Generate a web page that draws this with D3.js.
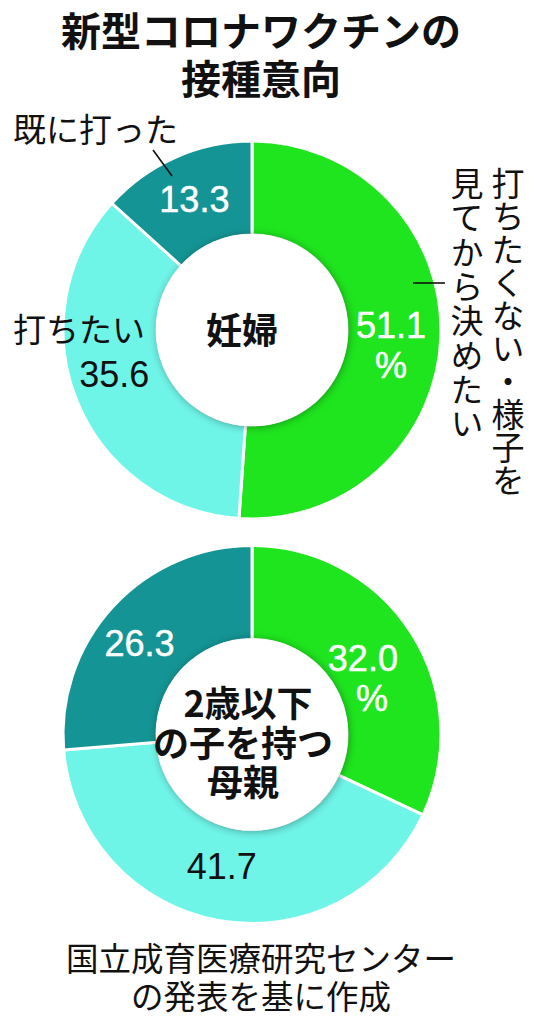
<!DOCTYPE html>
<html><head><meta charset="utf-8">
<script src="https://cdn.jsdelivr.net/npm/d3@7/dist/d3.min.js"></script>
<style>
html,body{margin:0;padding:0;background:#fff;}
svg{display:block;}
</style></head>
<body>
<script>
// ---- data ----
const title = ["新型コロナワクチンの", "接種意向"];
const categories = ["打ちたくない・様子を見てから決めたい", "打ちたい", "既に打った"];
const groups = ["妊婦", "2歳以下の子を持つ母親"];
const groupLines = [["妊婦"], ["2歳以下", "の子を持つ", "母親"]];
const pregnantValues = [51.1, 35.6, 13.3];
const motherValues = [32.0, 41.7, 26.3];
const colors = ["#1ee51e", "#6ff5e8", "#149494"];
const source = ["国立成育医療研究センター", "の発表を基に作成"];
const verticalLabel = ["打ちたくない・様子を", "見てから決めたい"];

// ---- layout ----
const W = 541, H = 1024;
const cx = 252, centersY = [330, 734.5];
const outerR = 189, innerR = 95;
const CJK = "'Noto Sans CJK JP','Noto Sans',sans-serif";
const NUM = "'Liberation Sans',Arial,sans-serif";
const nudges = [[[-3, 10], [-6, -9], [0, -1]], [[-9, 20], [-5, -8], [-8, 5]]];
const numColors = ["#fff", "#111", "#fff"];

const svg = d3.select("body").append("svg").attr("width", W).attr("height", H);
const defs = svg.append("defs");
const f = defs.append("filter").attr("id", "sh").attr("x", "-30%").attr("y", "-30%").attr("width", "160%").attr("height", "160%");
f.append("feDropShadow").attr("dx", 1).attr("dy", 1).attr("stdDeviation", 4)
  .attr("flood-color", "#000").attr("flood-opacity", 0.35);

function multiline(parent, lines, x, y0, lh, xs) {
  const t = parent.append("text").attr("text-anchor", "middle").attr("dominant-baseline", "central");
  t.selectAll("tspan").data(lines).join("tspan")
    .attr("x", (d, i) => x + (xs ? xs[i] : 0)).attr("y", (d, i) => y0 + i * lh)
    .attr("dominant-baseline", "central").text(d => d);
  return t;
}

// title
multiline(svg, title, 261, 29, 48)
  .style("font-family", CJK).style("font-weight", 700).style("font-size", "40px").attr("fill", "#111");

const pie = d3.pie().sort(null).value(d => d);
const arc = d3.arc().innerRadius(innerR).outerRadius(outerR);
const mid = d3.arc().innerRadius(innerR).outerRadius(outerR);

[pregnantValues, motherValues].forEach((vals, gi) => {
  const g = svg.append("g").attr("transform", `translate(${cx},${centersY[gi]})`);
  const arcs = pie(vals);
  g.selectAll("path").data(arcs).join("path")
    .attr("d", arc).attr("fill", (d, i) => colors[i])
    .attr("stroke", "#fff").attr("stroke-width", 3);
  g.append("circle").attr("r", innerR + 1).attr("fill", "#fff").attr("filter", "url(#sh)");

  // value labels
  arcs.forEach((a, i) => {
    const [x, y] = mid.centroid(a);
    const nx = x + nudges[gi][i][0], ny = y + nudges[gi][i][1];
    const t = g.append("text").attr("text-anchor", "middle")
      .style("font-family", NUM).style("font-size", "36px")
      .attr("fill", numColors[i]).attr("stroke", numColors[i]).attr("stroke-width", numColors[i] === "#fff" ? 0.5 : 0);
    const label = d3.format(".1f")(a.data);
    if (i === 0) {
      t.append("tspan").attr("x", nx).attr("y", ny - 7).text(label);
      t.append("tspan").attr("x", nx + (gi === 1 ? 9 : 0)).attr("y", ny + 33).text("%");
    } else {
      t.attr("x", nx).attr("y", ny + 13).text(label);
    }
  });

  // group label in the hole
  const lines = groupLines[gi];
  const lh = 39.5;
  const oy = gi === 0 ? -2 : 6;
  multiline(g, lines, gi === 0 ? -10 : -9, oy - (lines.length - 1) / 2 * lh, lh, gi === 0 ? null : [5, 0, 0])
    .style("font-family", CJK).style("font-weight", 700).style("font-size", "36px").attr("fill", "#111");
});

// category labels (top chart)
const lab = svg.append("g").style("font-family", CJK).style("font-size", "33px").attr("fill", "#111");
lab.append("text").attr("x", 13).attr("y", 128).attr("dominant-baseline", "central").text(categories[2]);
lab.append("text").attr("x", 13).attr("y", 328).attr("dominant-baseline", "central").text(categories[1]);
svg.append("line").attr("x1", 153).attr("y1", 150).attr("x2", 172).attr("y2", 176)
  .attr("stroke", "#111").attr("stroke-width", 1.6);
svg.append("line").attr("x1", 413).attr("y1", 283).attr("x2", 445).attr("y2", 283)
  .attr("stroke", "#111").attr("stroke-width", 1.6);
verticalLabel.forEach((s, i) => {
  lab.append("text").attr("x", i === 0 ? 508 : 467).attr("y", 167)
    .style("writing-mode", "vertical-rl")
    .style("letter-spacing", i === 0 ? "0px" : "1.3px")
    .text(s);
});

// source
multiline(svg, source, 261, 956, 38)
  .style("font-family", CJK).style("font-size", "32.5px").attr("fill", "#111");
</script>
</body></html>
